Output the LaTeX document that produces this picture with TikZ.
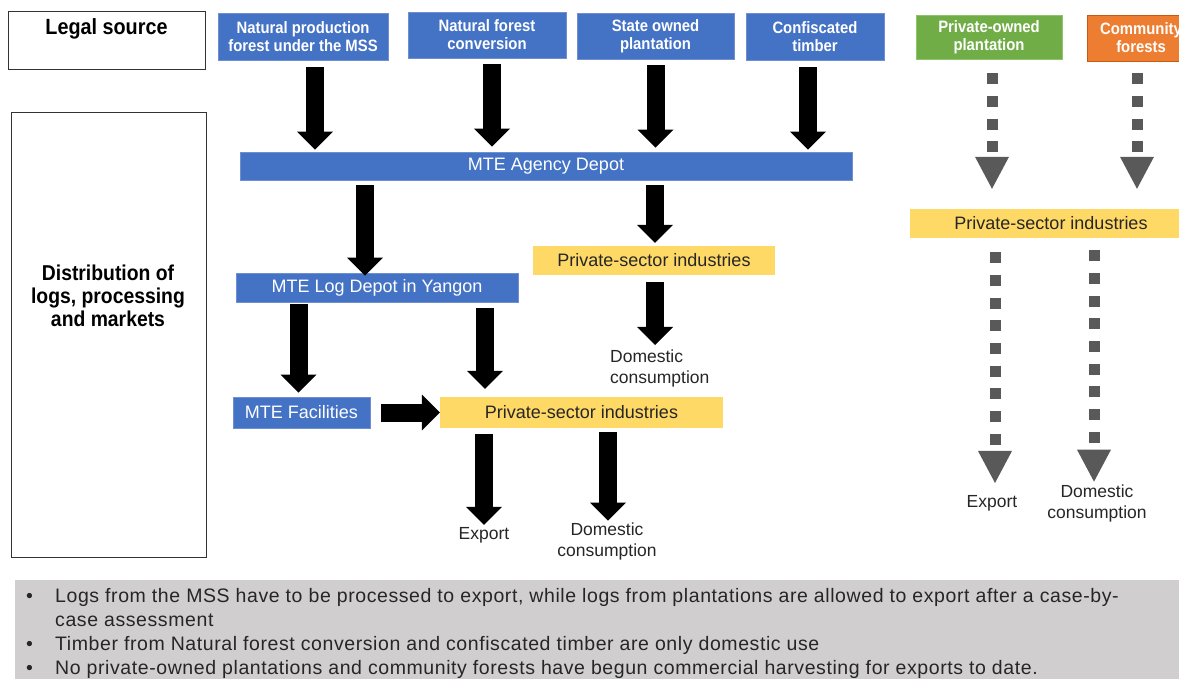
\documentclass[tikz,border=0pt]{standalone}
\usepackage{fontspec}
\setmainfont{Liberation Sans}
\newfontfamily\hfont[FakeStretch=0.9]{Liberation Sans}
\newfontfamily\notefont[LetterSpace=3]{Liberation Sans}
\usetikzlibrary{arrows.meta,calc}
\definecolor{mblue}{HTML}{4472C4}
\definecolor{mblueedge}{HTML}{6F8FD0}
\definecolor{myellow}{HTML}{FFD966}
\definecolor{mgreen}{HTML}{70AD47}
\definecolor{mgreenedge}{HTML}{8CC46A}
\definecolor{morange}{HTML}{ED7D31}
\definecolor{morangeedge}{HTML}{C55A11}
\definecolor{mgrey}{HTML}{D0CECE}
\definecolor{dgrey}{HTML}{595959}
\definecolor{txt}{HTML}{262626}
\begin{document}
\begin{tikzpicture}[x=1pt,y=-1pt,
  srcbox/.style={draw=mblueedge, line width=0.8pt, fill=mblue, text=white, inner sep=0pt, align=center,
    font=\hfont\bfseries\fontsize{16.5}{18}\selectfont},
  bluebar/.style={draw=mblueedge, line width=0.8pt, fill=mblue, text=white, inner sep=0pt,
    font=\fontsize{18}{21}\selectfont},
  yelbar/.style={fill=myellow, text=txt, inner sep=0pt, font=\fontsize{18}{21}\selectfont},
  lbl/.style={text=txt, inner sep=0pt, align=center, font=\fontsize{17.5}{21}\selectfont},
  sidebox/.style={draw=black!80, line width=1pt, fill=white, inner sep=0pt},
  sidetext/.style={text=black, inner sep=0pt, align=center, font=\hfont\bfseries\fontsize{21.5}{23}\selectfont},
  bigarr/.style={line width=18pt, -{Triangle[width=36pt,length=18pt,line width=0pt]}},
  dotarr/.style={draw=dgrey, line width=11pt, dash pattern=on 11pt off 11.7pt,
    -{Triangle[width=34pt,length=32pt,line width=0pt]}},
]
\clip (0,0) rectangle (1179,679);
\fill[white] (0,0) rectangle (1179,679);

% side boxes
\node[sidebox, minimum width=197pt, minimum height=58pt] (legal) at (106.5,41) {};
\node[sidetext, font=\hfont\bfseries\fontsize{22}{26}\selectfont] (legallbl) at (106.5,28.5) {Legal source};
\node[sidebox, minimum width=195pt, minimum height=444pt] (dist) at (108.5,335) {};
\node[sidetext] (distlbl) at (108,296) {Distribution of\\logs, processing\\and markets};

% legal sources
\node[srcbox, minimum width=170pt, minimum height=47pt] (nps) at (303,36.5) {Natural production\\forest under the MSS};
\node[srcbox, minimum width=158pt, minimum height=46pt] (nfc) at (487,35) {Natural forest\\conversion};
\node[srcbox, minimum width=157pt, minimum height=46pt] (sop) at (655.5,36) {State owned\\plantation};
\node[srcbox, minimum width=138pt, minimum height=47pt] (conf) at (815,36.5) {Confiscated\\timber};
\node[srcbox, fill=mgreen, draw=mgreenedge, minimum width=146pt, minimum height=44pt] (pop) at (989,37) {Private-owned\\plantation};
\node[srcbox, fill=morange, draw=morangeedge, minimum width=108pt, minimum height=46pt] (comm) at (1141,38) {Community\\forests};

% distribution
\node[bluebar, minimum width=612pt, minimum height=28pt] (agency) at (546,166) {MTE Agency Depot};
\node[yelbar, minimum width=242pt, minimum height=29pt] (psi1) at (654,260.5) {Private-sector industries};
\node[bluebar, minimum width=282pt, minimum height=29pt] (logdepot) at (377,287.5) {MTE Log Depot in Yangon};
\node[bluebar, minimum width=137pt, minimum height=31pt] (mtefac) at (301.5,412.5) {MTE Facilities};
\node[yelbar, minimum width=283pt, minimum height=31pt] (psi2) at (581.5,412.5) {Private-sector industries};
\node[yelbar, minimum width=282pt, minimum height=29pt] (psi3) at (1051,223.5) {Private-sector industries};

\node[lbl, align=left, anchor=north west] (dom1) at (610,350) {Domestic\\consumption};
\node[lbl] (exp2) at (484,535) {Export};
\node[lbl] (dom2) at (607,541.5) {Domestic\\consumption};
\node[lbl] (exp3) at (992,503) {Export};
\node[lbl] (dom3) at (1097,503.5) {Domestic\\consumption};

% solid arrows
\draw[bigarr] ($(nps.south)+(12,7)$) -- ($(nps.south |- agency.north)+(12,-2)$);
\draw[bigarr] ($(nfc.south)+(5,6)$) -- ($(nfc.south |- agency.north)+(5,-5)$);
\draw[bigarr] ($(sop.south)+(0,6)$) -- ($(sop.south |- agency.north)+(0,-4)$);
\draw[bigarr] ($(conf.south)+(-7,7)$) -- ($(conf.south |- agency.north)+(-7,-2)$);
\draw[bigarr] ($(agency.south -| logdepot.north)+(-12,5)$) -- ($(logdepot.north)+(-12,3)$);
\draw[bigarr] ($(agency.south -| psi1.north)+(1,5)$) -- ($(psi1.north)+(1,-3)$);
\draw[bigarr] ($(psi1.south)+(1,7)$) -- ($(psi1.south |- dom1.north)+(1,-5)$);
\draw[bigarr] ($(logdepot.south -| mtefac.north)+(-3,2)$) -- ($(mtefac.north)+(-3,-4)$);
\draw[bigarr] ($(logdepot.south)+(108,6)$) -- ($(logdepot.south |- psi2.north)+(108,-8)$);
\draw[bigarr] ($(mtefac.east)+(11,0)$) -- (psi2.west);
\draw[bigarr] ($(psi2.south -| exp2.north)+(0,6)$) -- ($(exp2.north)+(0,-2)$);
\draw[bigarr] ($(psi2.south -| dom2.north)+(1,4)$) -- ($(dom2.north)+(1,-2)$);

% dotted arrows
\draw[dotarr] ($(pop.south)+(3,14)$) -- ($(pop.south |- psi3.north)+(3,-20)$);
\draw[dotarr] ($(comm.south)+(-4,12)$) -- ($(comm.south |- psi3.north)+(-4,-20)$);
\draw[dotarr] ($(psi3.south -| exp3.north)+(3,14)$) -- ($(exp3.north)+(3,-12)$);
\draw[dotarr] ($(psi3.south -| dom3.north)+(-3,12)$) -- ($(dom3.north)+(-3,-3)$);

% notes
\node[fill=mgrey, inner sep=0pt, anchor=north west, minimum width=1180pt, minimum height=110pt] (notes) at (15,580) {};
\node[anchor=north west, inner sep=0pt, text=txt, font=\notefont\fontsize{19.5}{24}\selectfont] (notetext) at ($(notes.north west)+(11,5)$) {%
\begin{tabular}{@{}p{29pt}@{}l@{}}
\textbullet & Logs from the MSS have to be processed to export, while logs from plantations are allowed to export after a case-by-\\
 & case assessment\\
\textbullet & Timber from Natural forest conversion and confiscated timber are only domestic use\\
\textbullet & No private-owned plantations and community forests have begun commercial harvesting for exports to date.
\end{tabular}};
\end{tikzpicture}
\end{document}
